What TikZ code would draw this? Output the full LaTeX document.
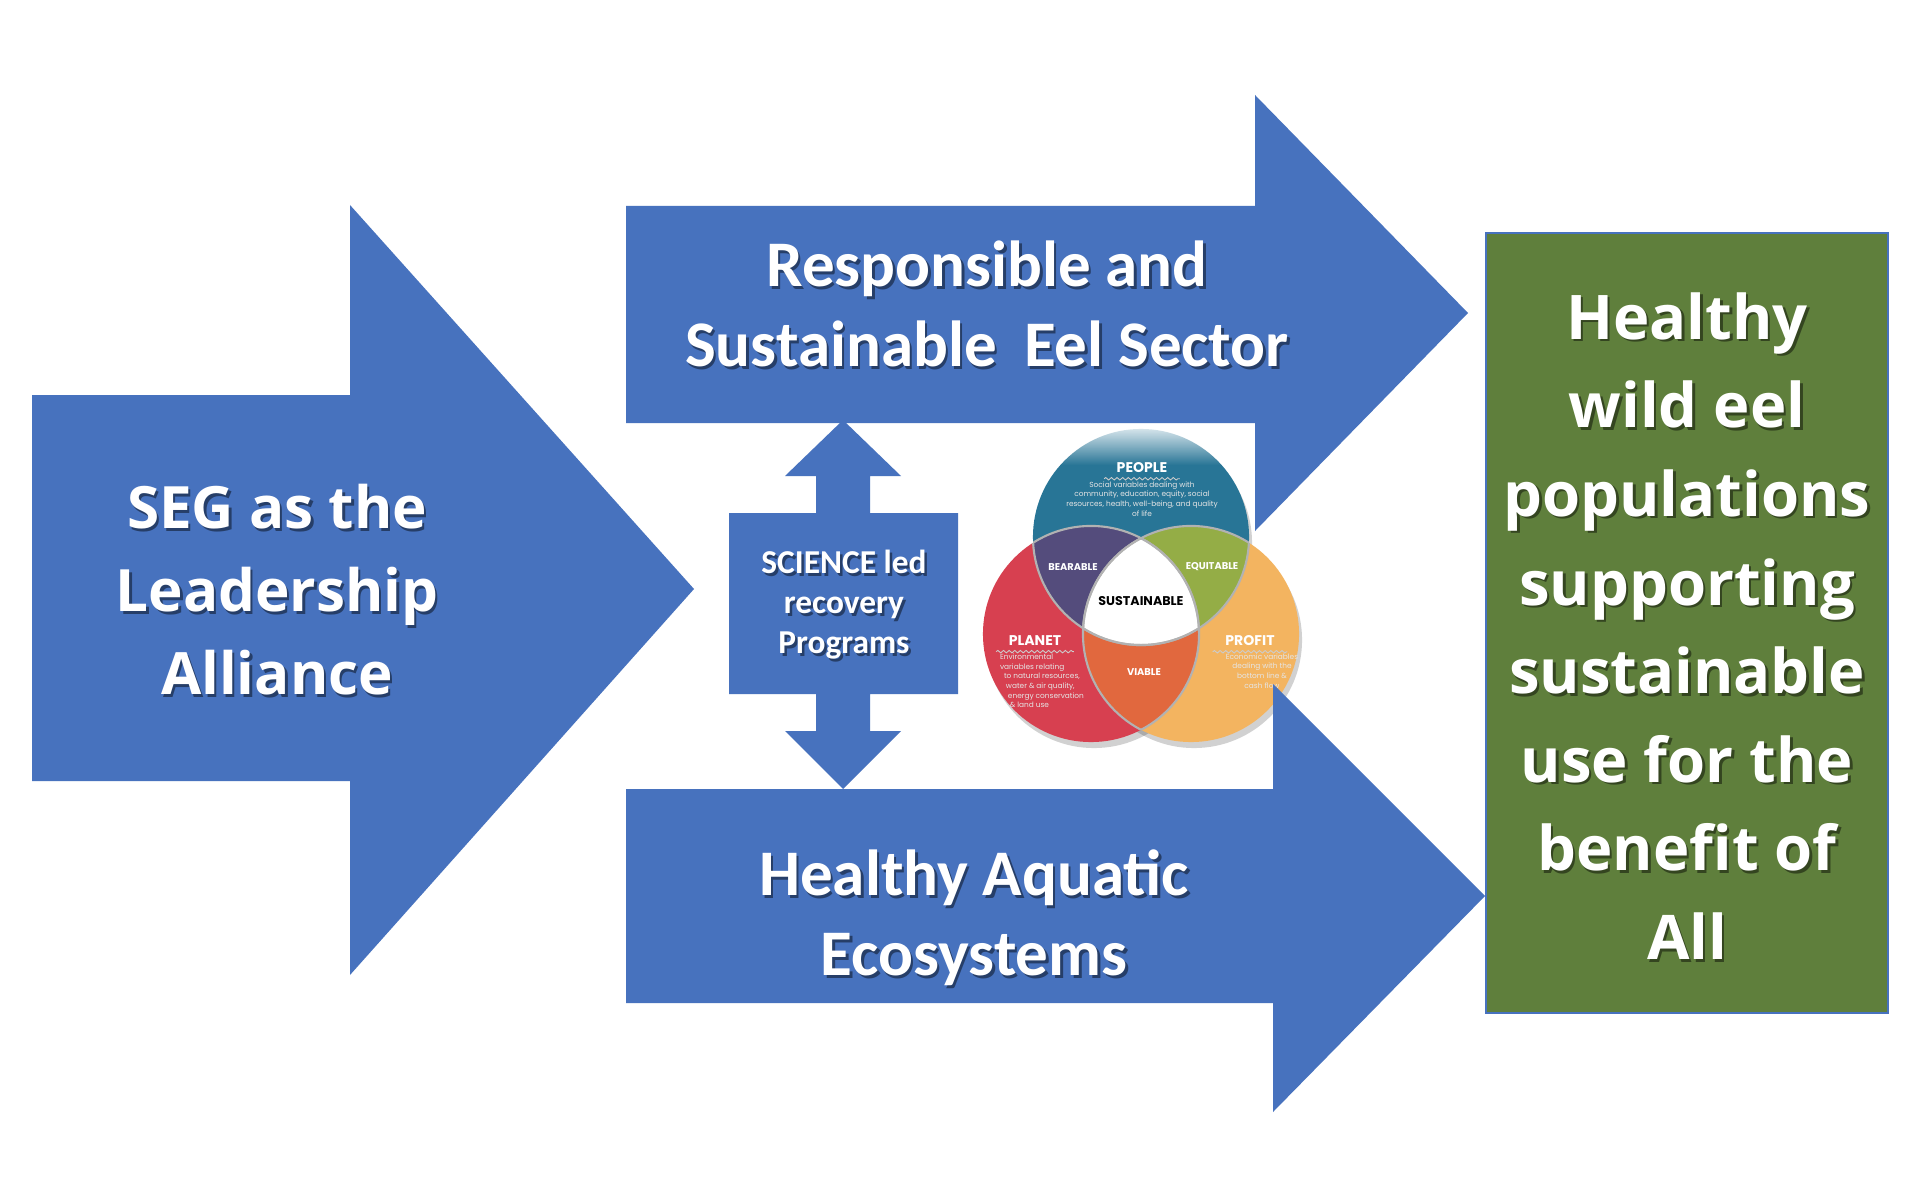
\documentclass[tikz,border=0pt]{standalone}
\usepackage{fontspec}
\setmainfont{Carlito}
\newfontfamily\opensans{Open Sans}
\newfontfamily\vennfont{Poppins}
\usetikzlibrary{fadings,decorations.pathmorphing}
\definecolor{arrowblue}{RGB}{71,114,190}
\definecolor{boxgreen}{RGB}{95,127,60}
\definecolor{peoplec}{RGB}{40,117,150}
\definecolor{planetc}{RGB}{215,64,80}
\definecolor{profitc}{RGB}{243,180,96}
\definecolor{bearc}{RGB}{84,76,124}
\definecolor{equitc}{RGB}{148,173,70}
\definecolor{viablec}{RGB}{225,104,62}
\newcommand\shtext[4]{%
  \node[#3, text=black, text opacity=0.45] (#2-sh) at ([shift={(2.5,2.5)}]#1) {#4};
  \node[#3] (#2) at (#1) {#4};}
\tikzset{
  bluearrow/.style={fill=arrowblue},
  lefttxt/.style={align=center, text=white, inner sep=0pt,
    font=\opensans\bfseries\fontsize{16.6}{23.6}\selectfont},
  greentxt/.style={align=center, text=white, inner sep=0pt,
    font=\opensans\bfseries\fontsize{17.5}{25.2}\selectfont},
  midtxt/.style={align=center, text=white, inner sep=0pt,
    font=\bfseries\fontsize{18.5}{22.7}\selectfont},
  scitxt/.style={align=center, text=white, inner sep=0pt,
    font=\bfseries\fontsize{9.5}{11.4}\selectfont},
  vennhead/.style={text=white, inner sep=0pt, font=\vennfont\bfseries\fontsize{4}{5}\selectfont},
  vennsub/.style={text=white, inner sep=0pt, font=\vennfont\bfseries\fontsize{2.8}{3.4}\selectfont},
  venndesc/.style={text=white!90!black, inner sep=0pt, font=\vennfont\fontsize{2.1}{2.75}\selectfont},
  vennrim/.style={draw=gray!60, line width=0.6pt},
  wavy/.style={draw=white!80!black, line width=0.25pt, decorate,
    decoration={snake, amplitude=0.35pt, segment length=1.6pt}},
}
\begin{document}
\begin{tikzpicture}[x=0.01cm,y=-0.01cm]
\useasboundingbox (0,0) rectangle (1924,1194);
\fill[white] (0,0) rectangle (1924,1194);

% ---------------- Venn diagram ----------------
\coordinate (cP) at (1141,537);
\coordinate (cL) at (1091,634);
\coordinate (cR) at (1191,634);
\def\vr{1.08cm}
\fill[black, opacity=0.18] ([shift={(3,6)}]cP) circle[radius=\vr];
\fill[black, opacity=0.18] ([shift={(3,6)}]cL) circle[radius=\vr];
\fill[black, opacity=0.18] ([shift={(3,6)}]cR) circle[radius=\vr];
\fill[peoplec] (cP) circle[radius=\vr];
\fill[planetc] (cL) circle[radius=\vr];
\fill[profitc] (cR) circle[radius=\vr];
\begin{scope}\clip (cP) circle[radius=\vr]; \fill[bearc] (cL) circle[radius=\vr];\end{scope}
\begin{scope}\clip (cP) circle[radius=\vr]; \fill[equitc] (cR) circle[radius=\vr];\end{scope}
\begin{scope}\clip (cL) circle[radius=\vr]; \fill[viablec] (cR) circle[radius=\vr];\end{scope}
\begin{scope}\clip (cP) circle[radius=\vr]; \clip (cL) circle[radius=\vr]; \fill[white] (cR) circle[radius=\vr];\end{scope}
% inner rims
\begin{scope}\clip (cL) circle[radius=\vr]; \draw[vennrim] (cP) circle[radius=\vr]; \draw[vennrim] (cR) circle[radius=\vr];\end{scope}
\begin{scope}\clip (cP) circle[radius=\vr]; \draw[vennrim] (cL) circle[radius=\vr]; \draw[vennrim] (cR) circle[radius=\vr];\end{scope}
\begin{scope}\clip (cR) circle[radius=\vr]; \draw[vennrim] (cL) circle[radius=\vr]; \draw[vennrim] (cP) circle[radius=\vr];\end{scope}
% faded top
\fill[white, path fading=south] (1020,420) rectangle (1260,465);

\node[vennhead] (people) at (1142,468) {PEOPLE};
\path[wavy] ([shift={(-12,5)}]people.south west) -- ([shift={(12,5)}]people.south east);
\node[venndesc, align=center] (peopled) at (1142,499) {Social variables dealing with\\community, education, equity, social\\resources, health, well-being, and quality\\of life};
\node[vennhead] (planet) at (1035,641) {PLANET};
\path[wavy] ([shift={(-12,5)}]planet.south west) -- ([shift={(12,5)}]planet.south east);
\node[venndesc, align=left] (planetd) at (1042,681) {Environmental\\ variables relating\\ \ \ to natural resources,\\ \ \ \ water \& air quality,\\ \ \ \ \ energy conservation\\ \ \ \ \ \ \& land use};
\node[vennhead] (profit) at (1250,641) {PROFIT};
\path[wavy] ([shift={(-12,5)}]profit.south west) -- ([shift={(12,5)}]profit.south east);
\node[venndesc, align=center] (profitd) at (1262,671) {Economic variables\\dealing with the\\bottom line \&\\cash flow};
\node[vennsub] (bear) at (1073,567) {BEARABLE};
\node[vennsub] (equit) at (1212,567) {EQUITABLE};
\node[vennsub] (viable) at (1144,672) {VIABLE};
\node[inner sep=0pt, font=\vennfont\bfseries\fontsize{3.6}{4}\selectfont] (sust) at (1141,601) {SUSTAINABLE};

% ---------------- Left arrow ----------------
\fill[bluearrow] (32,395) -- (350,395) -- (350,205) -- (694,589) -- (350,975) -- (350,781) -- (32,781) -- cycle;
\shtext{277,590}{seg}{lefttxt}{SEG as the\\Leadership\\Alliance}

% ---------------- Top arrow ----------------
\fill[bluearrow] (626,206) -- (1255,206) -- (1255,95) -- (1468,313) -- (1255,531) -- (1255,423) -- (626,423) -- cycle;
\shtext{987,304}{rse}{midtxt}{Responsible and\\Sustainable\hspace{0.42em}Eel Sector}

% ---------------- Bottom arrow ----------------
\fill[bluearrow] (626,789) -- (1273,789) -- (1273,684) -- (1485,896) -- (1273,1112) -- (1273,1003) -- (626,1003) -- cycle;
\shtext{974,918}{hae}{midtxt}{Healthy Aquatic\\Ecosystems}

% ---------------- Science box with up-down arrow ----------------
\fill[bluearrow] (843,420) -- (901,476) -- (870,476) -- (870,513) -- (958,513) -- (958,694)
  -- (870,694) -- (870,731) -- (901,731) -- (843,789) -- (785,731) -- (816,731) -- (816,694)
  -- (729,694) -- (729,513) -- (816,513) -- (816,476) -- (785,476) -- cycle;
\shtext{844,605}{sci}{scitxt}{SCIENCE led\\recovery\\Programs}

% ---------------- Green box ----------------
\fill[boxgreen, draw=arrowblue, line width=0.6pt] (1486,233) rectangle (1888,1013);
\shtext{1687,626}{goal}{greentxt}{Healthy\\wild eel\\populations\\supporting\\sustainable\\use for the\\benefit of\\All}
\end{tikzpicture}
\end{document}
